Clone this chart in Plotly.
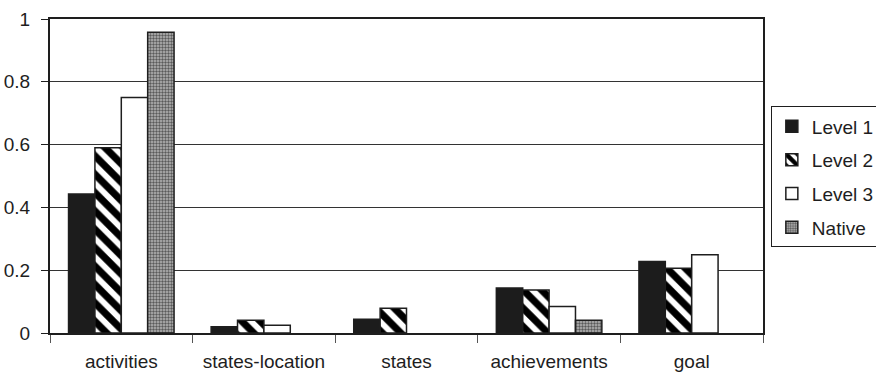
import plotly.graph_objects as go

categories = ["activities", "states-location", "states", "achievements", "goal"]
level1 = [0.443, 0.020, 0.044, 0.143, 0.228]
level2 = [0.590, 0.041, 0.079, 0.137, 0.206]
level3 = [0.750, 0.025, None, 0.084, 0.249]
native = [0.958, None, None, 0.041, None]
y_ticks = [0, 0.2, 0.4, 0.6, 0.8, 1]
y_tick_text = ["0", "0.2", "0.4", "0.6", "0.8", "1"]

FONT = "Liberation Sans, Arial, sans-serif"
INK = "#1e1e1e"

series = [
    ("Level 1", level1, dict(color="#1c1c1c")),
    ("Level 2", level2, dict(color="white",
                             pattern=dict(shape="\\", fgcolor="#000000", bgcolor="white",
                                          fgopacity=1, fillmode="replace",
                                          size=13, solidity=0.55))),
    ("Level 3", level3, dict(color="white")),
    ("Native", native, dict(color="#9a9a9a",
                            pattern=dict(shape=".", fgcolor="#5a5a5a", bgcolor="#b8b8b8",
                                         fgopacity=1, fillmode="replace",
                                         size=3, solidity=0.5))),
]

fig = go.Figure()
for name, vals, style in series:
    fig.add_trace(go.Bar(
        name=name, x=categories, y=vals, legendgroup=name,
        marker=dict(line=dict(color=INK, width=1.5), **style),
    ))

fig.update_layout(
    width=876, height=374,
    margin=dict(l=50, r=113, t=19, b=41, autoexpand=False),
    paper_bgcolor="white", plot_bgcolor="white",
    barmode="group", bargap=0.26, bargroupgap=0,
    font=dict(family=FONT, size=19, color=INK),
    legend=dict(
        x=1.011, xanchor="left", y=0.722, yanchor="top",
        bordercolor=INK, borderwidth=1, bgcolor="white",
        tracegroupgap=6, font=dict(size=19),
    ),
    showlegend=True,
)
fig.update_xaxes(
    showline=True, linecolor=INK, linewidth=2, mirror=True,
    ticks="outside", tickson="boundaries", ticklen=8, tickcolor="#555",
    showgrid=False, ticklabelstandoff=10, automargin=False,
)
fig.update_yaxes(
    range=[0, 1], tickvals=y_ticks, ticktext=y_tick_text,
    showline=True, linecolor=INK, linewidth=2, mirror=True,
    ticks="outside", ticklen=7, tickcolor=INK,
    showgrid=True, gridcolor="#333", gridwidth=1,
    zeroline=False, ticklabelstandoff=7, tickfont=dict(size=19),
    automargin=False,
)

fig.write_html("out.html")
